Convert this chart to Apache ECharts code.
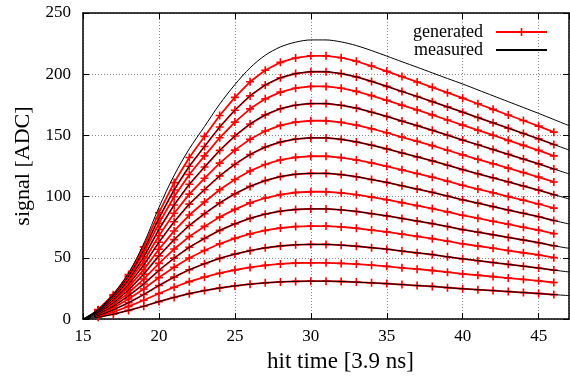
<!DOCTYPE html>
<html><head><meta charset="utf-8">
<script src="https://cdn.jsdelivr.net/npm/echarts@6/dist/echarts.min.js"></script>
<style>html,body{margin:0;padding:0;background:#fff}#c{width:570px;height:378px}</style>
</head><body><div id="c"></div>
<script>
// x positions (hit time, units of 3.9 ns)
const xMeasured = [15,16,17,18,19,20,21,22,23,24,25,26,27,28,29,30,31,32,33,34,35,36,37,38,39,40,41,42,43,44,45,46,47];
const xGenerated = [16,17,18,19,20,21,22,23,24,25,26,27,28,29,30,31,32,33,34,35,36,37,38,39,40,41,42,43,44,45,46];

// measured pulses (black), values at xMeasured
const meas31  = [0,1.6,4.0,7.1,10.5,14.3,17.7,20.8,23.3,25.4,27.1,28.5,29.6,30.4,30.8,31,31,30.7,30.2,29.6,29.0,28.2,27.4,26.7,25.7,24.8,24.0,23.3,22.5,21.7,20.9,20.0,19.2];
const meas61  = [0,2.9,7.6,13.4,20.1,27.5,34.3,40.3,45.2,49.6,53.1,55.9,58.2,59.7,60.7,61,61,60.4,59.5,58.3,57.1,55.6,54.1,52.7,50.9,49.2,47.7,46.2,44.7,43.2,41.7,40.0,38.5];
const meas90  = [0,4.1,10.6,19.0,28.7,39.8,49.8,58.7,65.9,72.5,77.8,82.3,85.7,88.1,89.5,90,90,89.2,87.9,86.1,84.3,82.2,80.1,78.0,75.6,73.1,71.0,68.9,66.7,64.6,62.4,59.9,57.8];
const meas119 = [0,5.2,13.3,23.9,36.7,51.6,64.9,76.5,86.1,94.9,102.3,108.4,113.1,116.4,118.3,119,119,118.0,116.3,114.0,111.6,108.9,106.2,103.5,100.5,97.4,94.7,91.9,89.1,86.4,83.6,80.5,77.7];
const meas148 = [0,6.1,15.7,28.3,44.2,62.8,79.5,93.9,105.7,117.0,126.4,134.4,140.5,144.6,147.0,148,148,146.8,144.7,142.0,139.0,135.7,132.5,129.2,125.7,122.1,118.7,115.4,112.1,108.7,105.3,101.6,98.2];
const meas176 = [0,6.9,17.7,32.1,50.8,73.2,93.2,110.1,124.2,137.8,149.5,159.3,166.8,171.8,174.7,176,176,174.6,172.3,169.0,165.5,161.7,158.0,154.2,150.2,146.2,142.4,138.5,134.6,130.7,126.8,122.6,118.6];
const meas202 = [0,7.5,19.3,35.1,56.4,82.4,105.5,124.8,141.0,156.9,170.6,182.3,191.2,197.1,200.5,202,202,200.5,197.8,194.1,190.1,185.9,181.8,177.6,173.3,169.0,164.6,160.3,155.9,151.6,147.2,142.6,138.1];
const meas228 = [0,8.0,20.5,37.6,61.6,91.2,117.4,139.1,157.3,175.6,191.5,205.2,215.5,222.3,226.2,228,228,226.4,223.4,219.3,214.8,210.2,205.7,201.1,196.5,192.0,187.2,182.4,177.6,172.8,168.0,163.0,158.0];

// generated pulses (red) that lie between measured ones, values at xGenerated
const gen46  = [2.3,5.8,10.4,15.4,20.9,26.0,30.6,34.3,37.5,40.1,42.2,43.9,45.1,45.8,46,46,45.5,44.9,44.0,43.1,41.9,40.8,39.7,38.3,36.9,35.8,34.7,33.5,32.4,31.3,29.9];
const gen76  = [3.5,9.2,16.4,24.6,33.9,42.4,49.9,56.0,61.5,65.9,69.6,72.4,74.4,75.6,76,76,75.3,74.2,72.7,71.2,69.4,67.6,65.7,63.6,61.5,59.7,57.9,56.0,54.2,52.4,50.2];
const gen104 = [4.6,12.0,21.4,32.7,45.5,57.2,67.4,75.7,83.3,89.6,94.9,98.9,101.7,103.4,104,104,103.1,101.6,99.6,97.5,95.1,92.7,90.3,87.6,84.8,82.4,79.9,77.5,75.0,72.6,69.8];
const gen133 = [5.6,14.5,26.1,40.4,57.0,72.0,85.0,95.6,105.6,114.0,121.0,126.3,130.0,132.1,133,133,131.9,130.0,127.5,124.8,121.9,118.9,115.9,112.6,109.3,106.2,103.2,100.1,97.1,94.0,90.6];
const gen162 = [6.5,16.8,30.3,47.5,68.1,86.4,102.1,115.0,127.4,138.0,146.9,153.6,158.2,160.9,162,162,160.7,158.5,155.5,152.2,148.7,145.2,141.7,137.9,134.1,130.5,126.9,123.3,119.7,116.0,112.0];
const gen190 = [7.2,18.6,33.7,53.9,78.2,99.9,118.1,133.3,148.1,160.9,171.7,179.9,185.4,188.6,190,190,188.6,186.0,182.5,178.7,174.7,170.8,166.8,162.6,158.4,154.3,150.2,146.0,141.9,137.8,133.3];
const gen215 = [7.7,19.9,36.4,59.0,86.9,111.5,132.0,149.2,166.3,181.1,193.8,203.3,209.7,213.3,215,215,213.5,210.6,206.7,202.4,198.1,193.7,189.3,184.9,180.4,175.9,171.3,166.7,162.2,157.6,152.7];

const xTicks = [15,20,25,30,35,40,45];
const yTicks = [0,50,100,150,200,250];

const measuredCurves = [meas31, meas61, meas90, meas119, meas148, meas176, meas202, meas228];
// generated curves at measured amplitudes coincide with the measured points (same read values)
const generatedCurves = [meas31.slice(1,32), gen46, meas61.slice(1,32), gen76, meas90.slice(1,32), gen104,
  meas119.slice(1,32), gen133, meas148.slice(1,32), gen162, meas176.slice(1,32), gen190, meas202.slice(1,32), gen215];

const FONT = 'Liberation Serif';
const PLUS = 'path://M4,0H6V4H10V6H6V10H4V6H0V4H4Z';
const series = [];
generatedCurves.forEach(function (c) {
  series.push({
    type: 'line', name: 'generated',
    data: xGenerated.map(function (x, i) { return [x, c[i]]; }),
    symbol: PLUS, symbolSize: 8, showSymbol: true,
    lineStyle: { color: '#ff0000', width: 1.8 },
    itemStyle: { color: '#ff0000' },
    emphasis: { disabled: true }, z: 2
  });
});
measuredCurves.forEach(function (c) {
  series.push({
    type: 'line', name: 'measured',
    data: xMeasured.map(function (x, i) { return [x, c[i]]; }),
    symbol: 'none', smooth: 0.3,
    lineStyle: { color: '#000000', width: 1 },
    itemStyle: { color: '#000000' },
    emphasis: { disabled: true }, z: 3
  });
});

const axisLineStyle = { show: true, onZero: false, lineStyle: { color: '#000', width: 1.5 } };
const tickStyle = { show: true, inside: true, length: 6, lineStyle: { color: '#000', width: 1 } };
const gridLine = { show: true, lineStyle: { color: '#8a8a8a', type: [1, 2], width: 1 } };

const chart = echarts.init(document.getElementById('c'), null, { renderer: 'canvas' });
chart.setOption({
  animation: false,
  backgroundColor: '#ffffff',
  grid: { left: 83, right: 1, top: 13, bottom: 53, containLabel: false },
  legend: {
    data: [{ name: 'generated' }, { name: 'measured', itemStyle: { opacity: 0 } }],
    orient: 'vertical', align: 'right',
    right: 17, top: 18, itemWidth: 51, itemHeight: 10, itemGap: 0,
    textStyle: { fontFamily: FONT, fontSize: 18, color: '#000', lineHeight: 16, padding: [0, 8, 0, 0] },
    selectedMode: false
  },
  xAxis: [{
    type: 'value', min: xTicks[0], max: 47, interval: 5, position: 'bottom',
    axisLine: axisLineStyle, axisTick: tickStyle, splitLine: gridLine,
    axisLabel: { color: '#000', fontFamily: FONT, fontSize: 17, margin: 9, showMaxLabel: false },
    name: 'hit time [3.9 ns]', nameLocation: 'middle', nameGap: 28,
    nameTextStyle: { fontFamily: FONT, fontSize: 23, color: '#000', padding: [0, 0, 0, 29] }
  }, {
    type: 'value', min: xTicks[0], max: 47, interval: 5, position: 'top',
    axisLine: axisLineStyle, axisTick: tickStyle, splitLine: { show: false }, axisLabel: { show: false }
  }],
  yAxis: [{
    type: 'value', min: yTicks[0], max: yTicks[yTicks.length - 1], interval: 50, position: 'left',
    axisLine: axisLineStyle, axisTick: tickStyle, splitLine: gridLine,
    axisLabel: { color: '#000', fontFamily: FONT, fontSize: 17, margin: 12 },
    name: 'signal [ADC]', nameLocation: 'middle', nameGap: 48,
    nameTextStyle: { fontFamily: FONT, fontSize: 22, color: '#000' }
  }, {
    type: 'value', min: yTicks[0], max: yTicks[yTicks.length - 1], interval: 50, position: 'right',
    axisLine: axisLineStyle, axisTick: tickStyle, splitLine: { show: false }, axisLabel: { show: false }
  }],
  series: series
});
</script></body></html>
